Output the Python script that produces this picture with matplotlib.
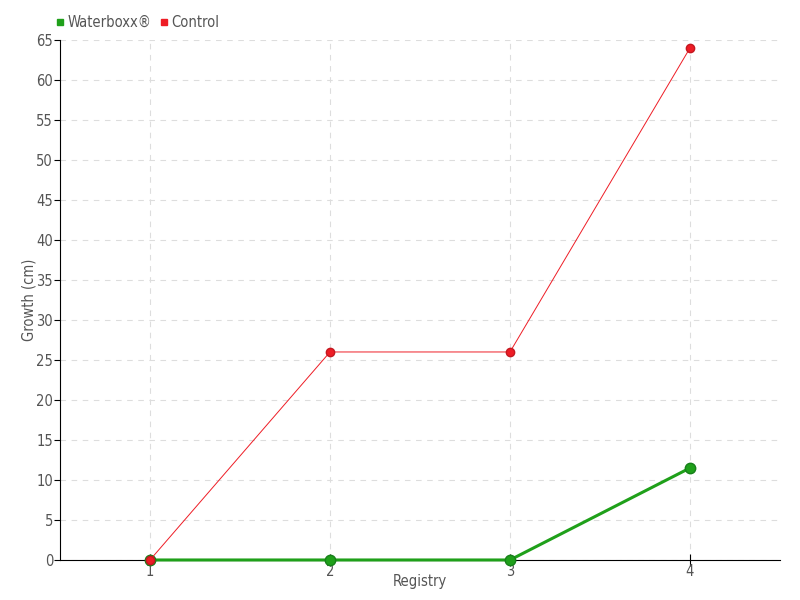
import numpy as np
import matplotlib.pyplot as plt
from matplotlib.lines import Line2D

registry = [1, 2, 3, 4]
waterboxx = [0, 0, 0, 11.5]
control = [0, 26, 26, 64]
yticks = np.arange(0, 70, 5)

plt.rcParams['font.family'] = ['DejaVu Sans']
plt.rcParams['font.stretch'] = 'condensed'
txt = '#555555'

fig = plt.figure(figsize=(8, 6), dpi=100)
ax = fig.add_axes([0.075, 0.0667, 0.9, 0.8667])

ax.plot(registry, waterboxx, color='#1fa01a', lw=2.2, marker='o', ms=7.5,
        mfc='#1fa01a', mec='#17801a', label='Waterboxx\u00ae', zorder=4,
        clip_on=False)
ax.plot(registry, control, color='#ee1c25', lw=0.7, marker='o', ms=6,
        mfc='#ee1c25', mec='#c41820', label='Control', zorder=5,
        clip_on=False)

ax.set_xlim(0.5, 4.5)
ax.set_ylim(0, 65)
ax.set_xticks(registry)
ax.set_yticks(yticks)
ax.grid(True, color='#dddddd', ls=(0, (5, 5)), lw=0.8)
ax.set_axisbelow(True)

for s in ['top', 'right']:
    ax.spines[s].set_visible(False)

ax.tick_params(axis='both', colors='black', labelcolor=txt, labelsize=10.5, length=4)
ax.tick_params(axis='x', direction='inout', length=8, pad=-1)
ax.tick_params(axis='y', pad=1)
ax.set_xlabel('Registry', color=txt, fontsize=10.5, labelpad=-4)
ax.set_ylabel('Growth (cm)', color=txt, fontsize=10.5, labelpad=0)

handles = [Line2D([], [], ls='none', marker='s', ms=5, color='#1fa01a'),
           Line2D([], [], ls='none', marker='s', ms=5, color='#ee1c25')]
fig.legend(handles, ['Waterboxx\u00ae', 'Control'], loc='upper left',
           bbox_to_anchor=(0.053, 0.997), ncol=2, frameon=False,
           handlelength=0.6, handletextpad=0.2, columnspacing=0.6,
           labelcolor=txt, fontsize=10.5)

plt.savefig('out.png', dpi=100)
